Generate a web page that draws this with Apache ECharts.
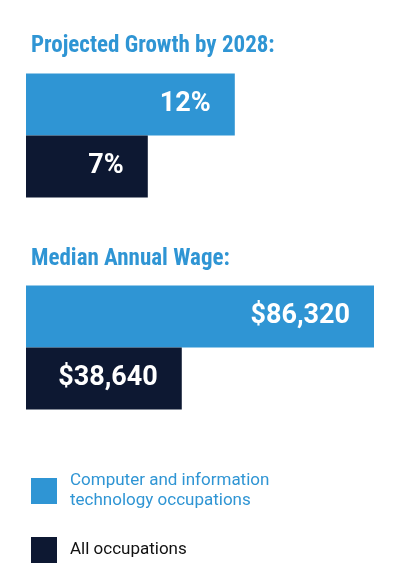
<!DOCTYPE html><html><head><meta charset="utf-8">
<script src="https://cdn.jsdelivr.net/npm/echarts@6/dist/echarts.min.js"></script>
<style>html,body{margin:0;background:#fff}#c{width:400px;height:583px}</style></head><body><div id="c"></div>
<script>
const seriesNames=['Computer and information\ntechnology occupations','All occupations'];
const growth=[12,7];
const wage=[86320,38640];
const titles=['Projected Growth by 2028:','Median Annual Wage:'];
const BLUE='#2f95d4',DARK='#0d1832';
const chart=echarts.init(document.getElementById('c'));
const lbl=(fmt)=>({show:true,position:'insideRight',distance:24,color:'#fff',fontSize:27,fontWeight:'bold',fontFamily:'Roboto',formatter:fmt});
const mk=(name,color,grid,val,fmt)=>({type:'bar',name,xAxisIndex:grid,yAxisIndex:grid,data:[val],barWidth:62,barGap:'0%',itemStyle:{color},label:lbl(fmt),silent:true});
const pct=p=>p.value+'%', usd=p=>'$'+p.value.toLocaleString('en-US');
chart.setOption({
 animation:false,
 title:[{text:titles[0],left:26,top:30},{text:titles[1],left:26,top:243}].map(t=>Object.assign(t,{textStyle:{color:BLUE,fontSize:23,fontWeight:'bold',fontFamily:'Roboto Condensed, Roboto'}})),
 grid:[{left:26,top:73,width:348,height:125},{left:26,top:285,width:348,height:125}],
 xAxis:[{gridIndex:0,min:0,max:20,show:false},{gridIndex:1,min:0,max:86320,show:false}],
 yAxis:[{gridIndex:0,type:'category',data:[''],inverse:true,show:false},{gridIndex:1,type:'category',data:[''],inverse:true,show:false}],
 legend:{orient:'vertical',left:26,top:466,itemWidth:26,itemHeight:26,itemGap:26,icon:'rect',
  data:[{name:seriesNames[0],textStyle:{color:BLUE}},{name:seriesNames[1],textStyle:{color:'#111'}}],
  textStyle:{fontSize:17,fontFamily:'Roboto',lineHeight:20,padding:[0,0,0,8]},selectedMode:false},
 series:[mk(seriesNames[0],BLUE,0,growth[0],pct),mk(seriesNames[1],DARK,0,growth[1],pct),
  mk(seriesNames[0],BLUE,1,wage[0],usd),mk(seriesNames[1],DARK,1,wage[1],usd)]
});
</script></body></html>
